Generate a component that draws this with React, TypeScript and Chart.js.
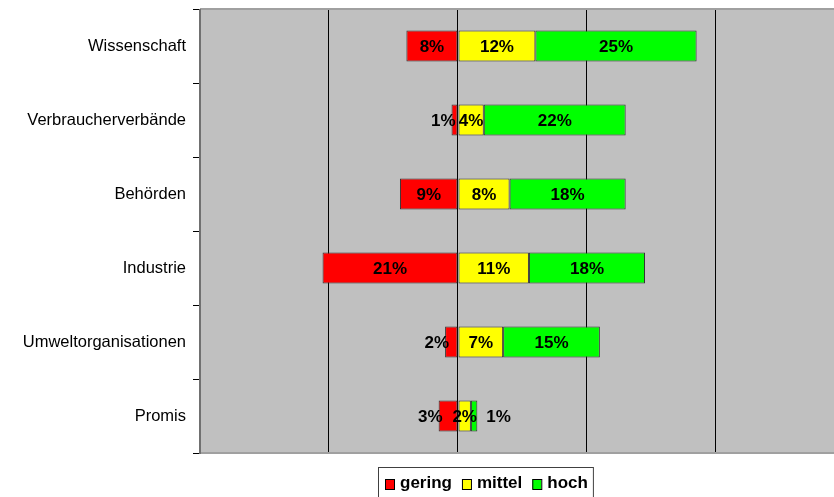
import React, { useEffect, useRef } from 'react';
import { Chart, registerables } from 'chart.js';

Chart.register(...registerables);

const categories = ['Wissenschaft', 'Verbraucherverbände', 'Behörden', 'Industrie', 'Umweltorganisationen', 'Promis'];
const gering = [8, 1, 9, 21, 2, 3];
const mittel = [12, 4, 8, 11, 7, 2];
const hoch = [25, 22, 18, 18, 15, 1];
const seriesNames = ['gering', 'mittel', 'hoch'];
const seriesColors = ['#FF0000', '#FFFF00', '#00FF00'];
const gridValues = [-20, 0, 20, 40];

const FONT = '"Liberation Sans", Arial, sans-serif';

const plotBg = {
  id: 'plotBg',
  beforeDraw(chart: any) {
    const { ctx, chartArea: a } = chart;
    ctx.save();
    ctx.fillStyle = '#C0C0C0';
    ctx.fillRect(a.left, a.top, a.right - a.left, a.bottom - a.top);
    ctx.restore();
  },
  afterDatasetsDraw(chart: any) {
    const { ctx, chartArea: a } = chart;
    ctx.save();
    ctx.strokeStyle = '#A0A0A0';
    ctx.lineWidth = 2;
    ctx.beginPath();
    ctx.moveTo(a.left, a.top);
    ctx.lineTo(a.right, a.top);
    ctx.moveTo(a.left, a.bottom);
    ctx.lineTo(a.right, a.bottom);
    ctx.stroke();
    ctx.strokeStyle = '#707070';
    ctx.beginPath();
    ctx.moveTo(a.left, a.top);
    ctx.lineTo(a.left, a.bottom + 1);
    ctx.stroke();
    ctx.restore();
  },
};

const valueLabels = {
  id: 'valueLabels',
  afterDatasetsDraw(chart: any) {
    const { ctx } = chart;
    ctx.save();
    ctx.font = `bold 17px ${FONT}`;
    ctx.fillStyle = '#000';
    ctx.textBaseline = 'middle';
    chart.data.datasets.forEach((ds: any, di: number) => {
      const meta = chart.getDatasetMeta(di);
      meta.data.forEach((bar: any, i: number) => {
        const raw = Math.abs(ds.data[i]);
        const txt = `${raw}%`;
        const left = Math.min(bar.x, bar.base);
        const right = Math.max(bar.x, bar.base);
        const y = bar.y + 1;
        if (di === 0 && raw <= 3) {
          ctx.textAlign = 'right';
          ctx.fillText(txt, left + 4, y);
        } else if (di === 2 && raw <= 3) {
          ctx.textAlign = 'left';
          ctx.fillText(txt, right + 9, y);
        } else {
          ctx.textAlign = 'center';
          ctx.fillText(txt, (left + right) / 2, y);
        }
      });
    });
    ctx.restore();
  },
};

const boxLegend = {
  id: 'boxLegend',
  afterDraw(chart: any) {
    const { ctx, chartArea: a } = chart;
    ctx.save();
    const boxLeft = 378;
    const boxTop = a.bottom + 14;
    const midY = boxTop + 16;
    ctx.font = `bold 17px ${FONT}`;
    ctx.textBaseline = 'middle';
    ctx.textAlign = 'left';
    let x = boxLeft + 7;
    chart.data.datasets.forEach((ds: any, i: number) => {
      ctx.fillStyle = ds.backgroundColor;
      ctx.fillRect(x, midY - 4, 9, 10);
      ctx.strokeStyle = '#000';
      ctx.lineWidth = 1;
      ctx.strokeRect(x + 0.5, midY - 3.5, 9, 10);
      x += 15;
      ctx.fillStyle = '#000';
      ctx.fillText(ds.label, x, midY);
      x += ctx.measureText(ds.label).width + 10;
    });
    const boxRight = x - 5;
    ctx.strokeStyle = '#404040';
    ctx.lineWidth = 1;
    ctx.strokeRect(boxLeft + 0.5, boxTop + 0.5, boxRight - boxLeft, 40);
    ctx.restore();
  },
};

export default function App() {
  const ref = useRef<HTMLCanvasElement>(null);
  useEffect(() => {
    document.body.style.margin = '0';
    if (!ref.current) return;
    const chart = new Chart(ref.current, {
      type: 'bar',
      data: {
        labels: categories,
        datasets: [
          { label: seriesNames[0], data: gering.map((v) => -v), backgroundColor: seriesColors[0] },
          { label: seriesNames[1], data: mittel, backgroundColor: seriesColors[1] },
          { label: seriesNames[2], data: hoch, backgroundColor: seriesColors[2] },
        ].map((d) => ({
          ...d,
          borderColor: '#333333',
          borderWidth: 1,
          borderSkipped: false,
          barPercentage: 0.42,
          categoryPercentage: 1,
        })),
      },
      options: {
        indexAxis: 'y',
        responsive: false,
        animation: false,
        layout: { padding: { top: 9, bottom: 44, left: 0, right: 0 } },
        plugins: { legend: { display: false }, tooltip: { enabled: false } },
        scales: {
          x: {
            stacked: true,
            min: -40,
            max: 58.3,
            ticks: { display: false, stepSize: 20 },
            border: { display: false },
            grid: {
              drawTicks: false,
              color: (c: any) => (gridValues.includes(c.tick?.value) ? '#000' : 'rgba(0,0,0,0)'),
              lineWidth: 1,
            },
            afterFit: (s: any) => {
              s.height = 0;
              s.paddingLeft = 0;
              s.paddingRight = 0;
            },
          },
          y: {
            stacked: true,
            border: { display: false },
            grid: { offset: true, drawOnChartArea: false, tickLength: 7, color: '#000' },
            ticks: { color: '#000', padding: 7, font: { family: FONT, size: 16.5 } },
            afterFit: (s: any) => {
              s.width = 200;
              s.paddingTop = 0;
              s.paddingBottom = 0;
            },
          },
        },
      },
      plugins: [plotBg, valueLabels, boxLegend],
    });
    return () => chart.destroy();
  }, []);
  return (
    <div style={{ position: 'absolute', left: 0, top: 0, width: 834, height: 497 }}>
      <canvas ref={ref} width={834} height={497} />
    </div>
  );
}
